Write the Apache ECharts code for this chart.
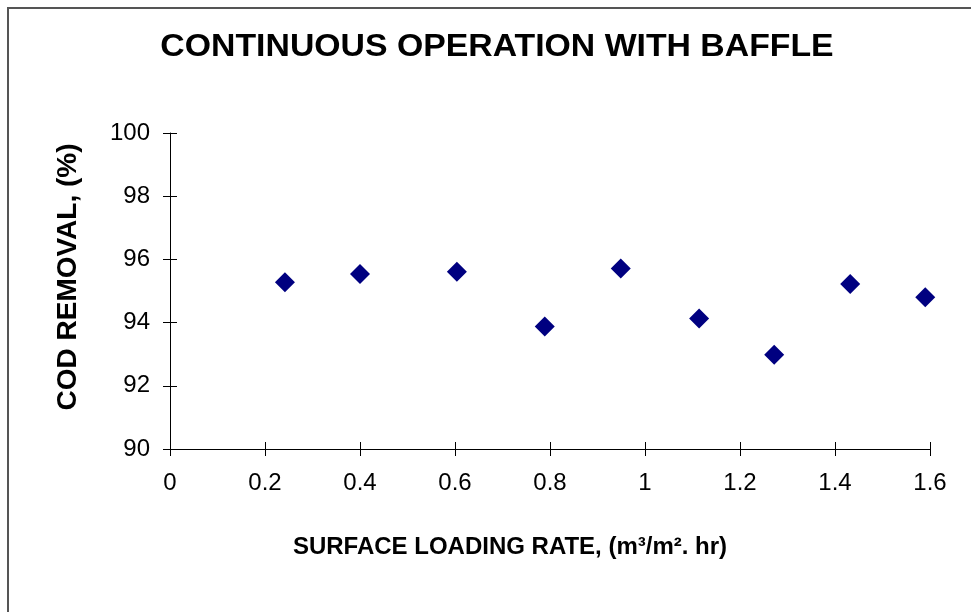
<!DOCTYPE html>
<html>
<head>
<meta charset="utf-8">
<script src="https://cdn.jsdelivr.net/npm/echarts@6/dist/echarts.min.js"></script>
<style>
  html, body { margin: 0; padding: 0; background: #fff; }
  #chart { width: 971px; height: 612px; }
</style>
</head>
<body>
<div id="chart"></div>
<script>
// surface loading rate (m3/m2.hr) vs COD removal (%)
var loadingRate = [0.242, 0.40, 0.604, 0.789, 0.949, 1.114, 1.272, 1.432, 1.59];
var codRemoval = [95.28, 95.54, 95.61, 93.88, 95.71, 94.13, 92.98, 95.22, 94.80];
var xTicks = { min: 0, max: 1.6, interval: 0.2 };
var yTicks = { min: 90, max: 100, interval: 2 };

var chart = echarts.init(document.getElementById("chart"));

var points = [];
for (var i = 0; i < loadingRate.length; i++) {
    points.push([loadingRate[i], codRemoval[i]]);
}

var font = "Liberation Sans, Arial, sans-serif";

// two axes on the same side so the ticks cross the axis line
function xAxisDef(inside, showAll) {
    return {
        type: "value",
        position: "bottom",
        min: xTicks.min, max: xTicks.max, interval: xTicks.interval,
        axisLine: { show: showAll, onZero: false, lineStyle: { color: "#000", width: 1 } },
        axisTick: { show: true, inside: inside, length: 7, lineStyle: { color: "#000", width: 1 } },
        axisLabel: {
            show: showAll, color: "#000", fontSize: 24, fontFamily: font, margin: 22,
            formatter: function (v) { return String(Math.round(v * 10) / 10); }
        },
        splitLine: { show: false }
    };
}

function yAxisDef(inside, showAll) {
    return {
        type: "value",
        position: "left",
        min: yTicks.min, max: yTicks.max, interval: yTicks.interval,
        axisLine: { show: showAll, onZero: false, lineStyle: { color: "#000", width: 1 } },
        axisTick: { show: true, inside: inside, length: 7, lineStyle: { color: "#000", width: 1 } },
        axisLabel: { show: showAll, color: "#000", fontSize: 24, fontFamily: font, margin: 20 },
        splitLine: { show: false }
    };
}

var option = {
    backgroundColor: "#fff",
    animation: false,
    grid: { left: 170, right: 41, top: 133, bottom: 163 },
    xAxis: [xAxisDef(false, true), xAxisDef(true, false)],
    yAxis: [yAxisDef(false, true), yAxisDef(true, false)],
    graphic: [
        {
            type: "rect",
            shape: { x: 8, y: 8, width: 1000, height: 700 },
            style: { fill: "none", stroke: "#555", lineWidth: 2 }
        },
        {
            type: "text",
            x: 497, y: 47,
            scaleX: 1.09,
            style: {
                text: "CONTINUOUS OPERATION WITH BAFFLE",
                font: "bold 31px " + font,
                fill: "#000",
                align: "center",
                verticalAlign: "middle"
            }
        },
        {
            type: "text",
            x: 68, y: 277,
            rotation: Math.PI / 2,
            style: {
                text: "COD REMOVAL, (%)",
                font: "bold 28px " + font,
                fill: "#000",
                align: "center",
                verticalAlign: "middle"
            }
        },
        {
            type: "text",
            x: 510, y: 547,
            style: {
                text: "SURFACE LOADING RATE, (m³/m². hr)",
                font: "bold 24px " + font,
                fill: "#000",
                align: "center",
                verticalAlign: "middle"
            }
        }
    ],
    series: [{
        type: "scatter",
        xAxisIndex: 0,
        yAxisIndex: 0,
        data: points,
        symbol: "diamond",
        symbolSize: [20, 20],
        itemStyle: { color: "#000080", opacity: 1 }
    }]
};
chart.setOption(option);
</script>
</body>
</html>
